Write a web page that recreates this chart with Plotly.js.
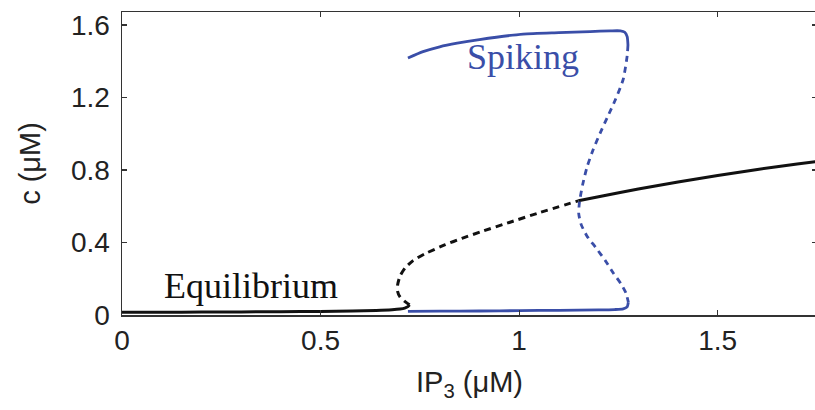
<!DOCTYPE html>
<html>
<head>
<meta charset="utf-8">
<script src="https://cdn.plot.ly/plotly-3.0.1.min.js"></script>
<style>
html, body { margin: 0; padding: 0; overflow: hidden; background: #fff; }
#chart { width: 818px; height: 410px; }
</style>
</head>
<body>
<div id="chart"></div>
<script>
// Equilibrium branch (black): stable low, unstable middle, stable high
var eqLowX = [0, 0.1, 0.2, 0.3, 0.4, 0.5, 0.58, 0.64, 0.68, 0.70, 0.712, 0.72, 0.724];
var eqLowY = [0.015, 0.015, 0.016, 0.017, 0.018, 0.02, 0.022, 0.025, 0.029, 0.033, 0.038, 0.046, 0.056];

var eqMidX = [0.724, 0.712, 0.700, 0.694, 0.694, 0.700, 0.713, 0.733, 0.763, 0.814, 0.856, 0.902, 0.977, 1.053, 1.149];
var eqMidY = [0.056, 0.075, 0.10, 0.13, 0.166, 0.215, 0.26, 0.30, 0.338, 0.388, 0.423, 0.458, 0.512, 0.566, 0.63];

var eqHighX = [1.149, 1.2, 1.3, 1.4, 1.5, 1.6, 1.7, 1.75];
var eqHighY = [0.63, 0.653, 0.695, 0.734, 0.770, 0.803, 0.833, 0.847];

// Spiking branch (blue): max of oscillation, unstable cycle, min of oscillation
var spUpX = [0.72, 0.758, 0.80, 0.844, 0.90, 1.01, 1.10, 1.179, 1.23, 1.255, 1.266, 1.272, 1.274];
var spUpY = [1.418, 1.453, 1.48, 1.50, 1.52, 1.55, 1.558, 1.564, 1.568, 1.568, 1.56, 1.536, 1.49];

var spMidX = [1.274, 1.272, 1.262, 1.242, 1.222, 1.204, 1.186, 1.171, 1.160, 1.152, 1.150, 1.156, 1.171, 1.193, 1.217, 1.237, 1.257, 1.269, 1.275];
var spMidY = [1.49, 1.43, 1.30, 1.186, 1.09, 1.004, 0.91, 0.817, 0.72, 0.624, 0.56, 0.50, 0.435, 0.372, 0.30, 0.232, 0.17, 0.121, 0.07];

var spLowX = [1.275, 1.272, 1.262, 1.24, 1.2, 1.1, 1.0, 0.9, 0.8, 0.72];
var spLowY = [0.07, 0.045, 0.034, 0.03, 0.028, 0.026, 0.024, 0.022, 0.021, 0.02];

// Axis ticks
var xTickVals = [0, 0.5, 1, 1.5];
var xTickText = ["0", "0.5", "1", "1.5"];
var yTickVals = [0, 0.4, 0.8, 1.2, 1.6];
var yTickText = ["0", "0.4", "0.8", "1.2", "1.6"];

var black = "#111111";
var blue = "#3a4ea8";

function tr(x, y, color, dash, w) {
  return {
    x: x, y: y, type: "scatter", mode: "lines",
    line: {color: color, width: w, dash: dash, shape: "spline", smoothing: 0.6},
    hoverinfo: "skip", showlegend: false
  };
}

var data = [
  tr(eqLowX, eqLowY, black, "solid", 3),
  tr(eqMidX, eqMidY, black, "7px,5px", 3),
  tr(eqHighX, eqHighY, black, "solid", 3),
  tr(spUpX, spUpY, blue, "solid", 2.8),
  tr(spMidX, spMidY, blue, "6px,5px", 2.8),
  tr(spLowX, spLowY, blue, "solid", 2.8)
];

var tickFont = {family: "Liberation Sans, Arial, sans-serif", size: 28, color: "#222"};
var titleFont = {family: "Liberation Sans, Arial, sans-serif", size: 29, color: "#222"};

var layout = {
  width: 818, height: 410,
  margin: {l: 122, r: 1, t: 12, b: 95},
  paper_bgcolor: "#fff", plot_bgcolor: "#fff",
  xaxis: {
    range: [0, 1.75], tickvals: xTickVals, ticktext: xTickText,
    showgrid: false, zeroline: false, showline: true, linecolor: "#333", linewidth: 1.5,
    mirror: "allticks", ticks: "inside", ticklen: 5, tickcolor: "#333", tickwidth: 1.2,
    tickfont: tickFont,
    title: {text: "IP<sub>3</sub> (\u03bcM)", font: titleFont, standoff: 16}
  },
  yaxis: {
    range: [0, 1.672], tickvals: yTickVals, ticktext: yTickText,
    showgrid: false, zeroline: false, showline: true, linecolor: "#333", linewidth: 1.5,
    mirror: "allticks", ticks: "inside", ticklen: 5, tickcolor: "#333", tickwidth: 1.2,
    tickfont: tickFont, ticklabelstandoff: 5,
    title: {text: "c (\u03bcM)", font: titleFont, standoff: 22}
  },
  annotations: [
    {text: "Equilibrium", x: 0.324, y: 0.162, xref: "x", yref: "y", showarrow: false,
     xanchor: "center", yanchor: "middle",
     font: {family: "Liberation Serif, Times New Roman, serif", size: 36, color: "#111"}},
    {text: "Spiking", x: 1.010, y: 1.425, xref: "x", yref: "y", showarrow: false,
     xanchor: "center", yanchor: "middle",
     font: {family: "Liberation Serif, Times New Roman, serif", size: 36, color: blue}}
  ]
};

Plotly.newPlot("chart", data, layout, {displayModeBar: false, staticPlot: true});
</script>
</body>
</html>
